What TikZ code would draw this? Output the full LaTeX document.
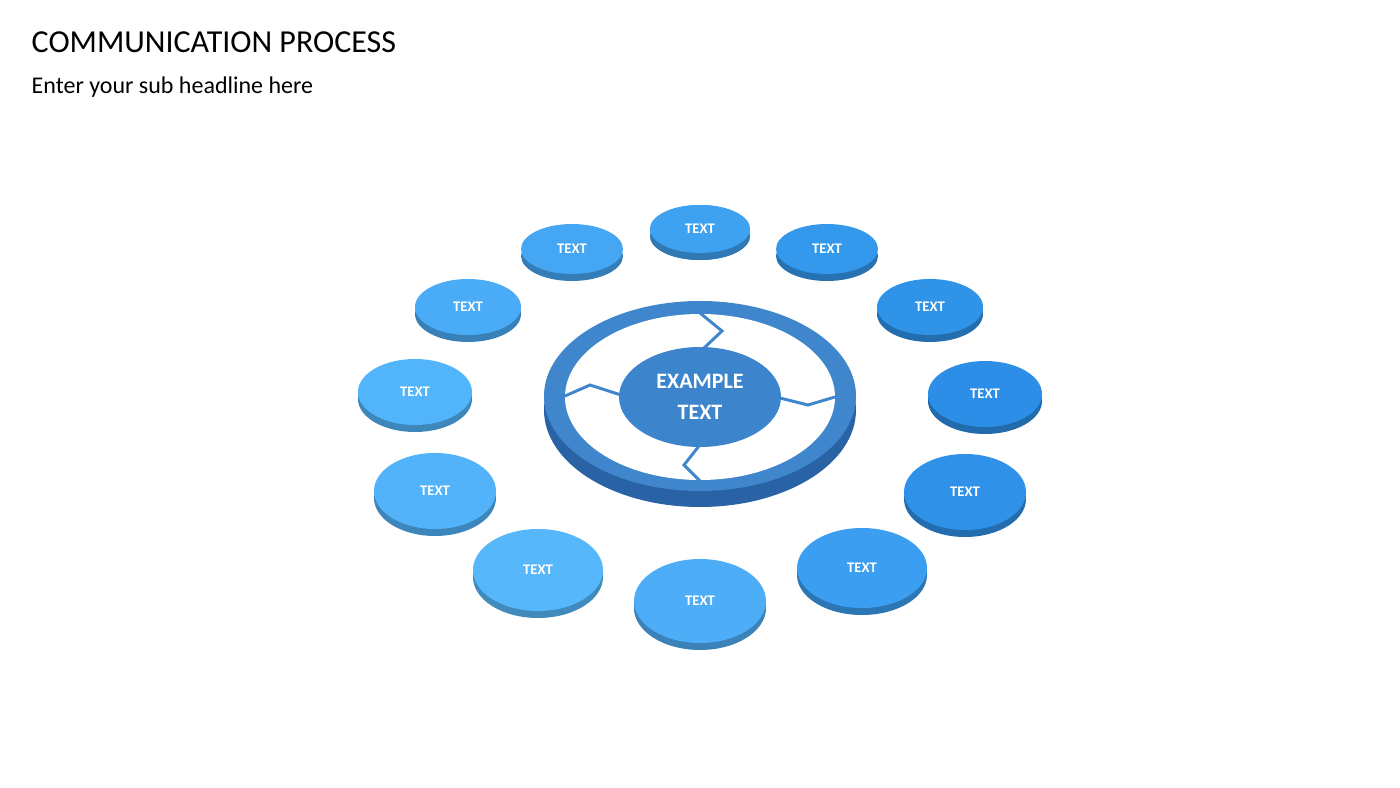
\documentclass[tikz,border=0pt]{standalone}
\usepackage{fontspec}
\setmainfont{Carlito}
\usetikzlibrary{shapes.geometric,backgrounds}
\definecolor{ringc}{HTML}{3F86CC}
\definecolor{ringside}{HTML}{2A62A6}
\definecolor{spoke}{HTML}{1F3F6B}
\definecolor{cen}{HTML}{3C84CB}
\tikzset{
 ell/.style={ellipse,inner sep=0pt,draw=none},
 sattxt/.style={text=white,font=\bfseries\fontsize{11}{13}\selectfont},
 spk/.style={draw=spoke,line width=3pt},
 thin/.style={draw=black!70,line width=0.8pt},
}
\newcommand{\sat}[6]{%
 \node[ell,fill=#6!75!black,minimum width={2*#4*0.75pt},minimum height={2*#5*0.75pt}] at (#2,#3+7) {};
 \node[ell,fill=#6,minimum width={2*#4*0.75pt},minimum height={2*#5*0.75pt},sattxt] (#1) at (#2,#3) {TEXT};}
\begin{document}
\begin{tikzpicture}[x=0.75pt,y=-0.75pt]
\useasboundingbox[fill=white] (0,0) rectangle (1400,788);
\node[anchor=west,font=\fontsize{24}{28}\selectfont] (title) at (27,42) {COMMUNICATION PROCESS};
\node[anchor=west,font=\fontsize{18}{22}\selectfont] (sub) at (27,87) {Enter your sub headline here};
% ring
\node[ell,fill=ringside,minimum width={312*0.75pt},minimum height={194*0.75pt}] at (700,410) {};
\node[ell,fill=ringc,minimum width={312*0.75pt},minimum height={190*0.75pt}] (ring) at (700,396) {};
\node[ell,fill=white,minimum width={270*0.75pt},minimum height={166*0.75pt}] (inner) at (700,397) {};
\node[ell,fill=cen,minimum width={162*0.75pt},minimum height={100*0.75pt},text=white,align=center,font=\bfseries\fontsize{16.5}{23}\selectfont] (center) at (700,397) {EXAMPLE\\TEXT};
\begin{scope}[draw=ringc,line width=2.2pt]
\draw (700,313) -- (722,331) -- (704,348);
\draw (565,396) -- (590,385) -- (621,395);
\draw (780,398) -- (808,405) -- (835,397);
\draw (699,446) -- (684,465) -- (700,481);
\end{scope}
% satellites
\sat{s1}{700}{229}{50}{24}{blue!15!cyan!60!blue!90!white}
\definecolor{c1}{HTML}{3EA2F0}
\definecolor{c2}{HTML}{3499EC}
\definecolor{c3}{HTML}{2F93E8}
\definecolor{c4}{HTML}{2C8EE6}
\definecolor{c5}{HTML}{2F92E8}
\definecolor{c6}{HTML}{3C9EF0}
\definecolor{c7}{HTML}{4DADF6}
\definecolor{c8}{HTML}{56B8FB}
\definecolor{c9}{HTML}{52B3FA}
\definecolor{c10}{HTML}{52B4FA}
\definecolor{c11}{HTML}{4AABF6}
\definecolor{c12}{HTML}{45A6F3}
\sat{s1}{700}{229}{50}{24}{c1}
\sat{s2}{827}{249}{51}{25}{c2}
\sat{s3}{930}{307}{53}{28}{c3}
\sat{s4}{985}{394}{57}{33}{c4}
\sat{s5}{965}{492}{61}{38}{c5}
\sat{s6}{862}{568}{65}{40}{c6}
\sat{s7}{700}{601}{66}{42}{c7}
\sat{s8}{538}{570}{65}{41}{c8}
\sat{s9}{435}{491}{61}{38}{c9}
\sat{s10}{415}{392}{57}{33}{c10}
\sat{s11}{468}{307}{53}{28}{c11}
\sat{s12}{572}{249}{51}{25}{c12}
\begin{pgfonlayer}{background}
\draw[thin] (s1) -- (ring);
\draw[thin] (s7) -- (ring);
\foreach \s in {s2,s3,s4,s5,s6,s8,s9,s10,s11,s12} \draw[spk] (\s) -- (ring);
\end{pgfonlayer}
\end{tikzpicture}
\end{document}
